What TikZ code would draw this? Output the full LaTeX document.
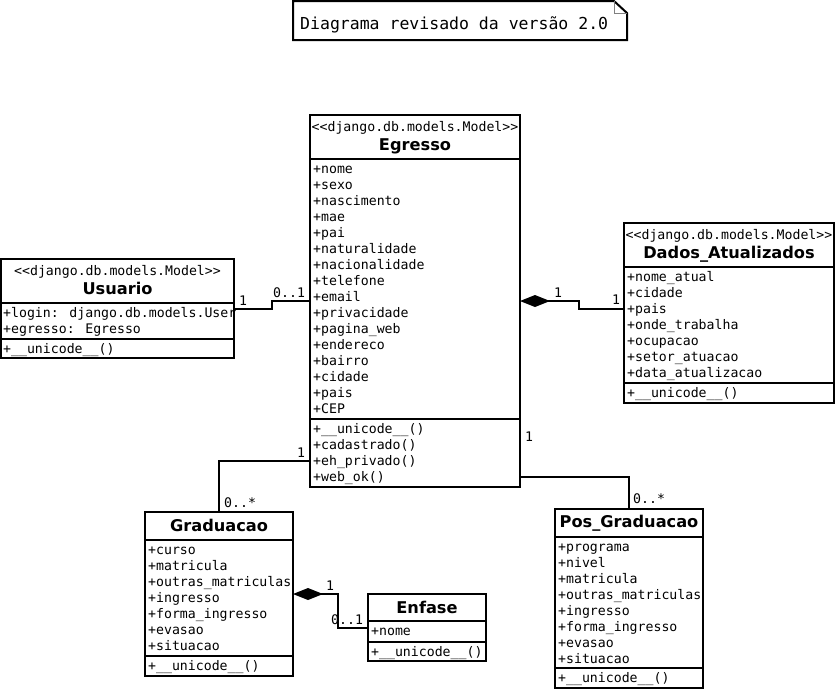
\documentclass[tikz,border=0pt]{standalone}
\usepackage{fontspec}
\newfontfamily\monof{DejaVu Sans Mono}
\newfontfamily\sansf{DejaVu Sans}
\usetikzlibrary{arrows.meta}
\begin{document}
\begin{tikzpicture}[x=1pt,y=-1pt,
  box/.style={draw, line width=2pt, anchor=north west, inner sep=0pt, outer sep=0pt},
  sepline/.style={line width=2pt},
  attr/.style={anchor=base west, inner sep=0pt, font=\monof\fontsize{13.2}{16}\selectfont},
  stereo/.style={anchor=base, inner sep=0pt, font=\monof\fontsize{13.2}{16}\selectfont},
  cname/.style={anchor=base, inner sep=0pt, font=\sansf\bfseries\fontsize{16.2}{18}\selectfont},
  mult/.style={anchor=base west, inner sep=0pt, font=\monof\fontsize{13.2}{16}\selectfont},
  conn/.style={line width=2pt},
  comp/.style={conn, {Diamond[length=30pt 0,width=12pt 0]}-}
]
\useasboundingbox (0,0) rectangle (835,689);

% ---------- note ----------
\draw[line width=2pt] (293,1) -- (614,1) -- (627,13) -- (627,40) -- (293,40) -- cycle;
\draw[gray, line width=1pt] (614,1) -- (614,13) -- (627,13);
\node[anchor=base west, inner sep=0pt, font=\monof\fontsize{16.5}{18}\selectfont] (note) at (300,29) {Diagrama revisado da versão 2.0};

% ---------- Egresso ----------
\node[box, minimum width=210pt, minimum height=372pt] (egresso) at (310,115) {};
\node[stereo] (eg-st) at (egresso.north |- 0,131) {<{}<django.db.models.Model>{}>};
\node[cname] (eg-nm) at (egresso.north |- 0,150) {Egresso};
\draw[sepline] (310,159) -- (520,159);
\foreach \t [count=\i from 0] in {nome,sexo,nascimento,mae,pai,naturalidade,nacionalidade,telefone,email,privacidade,pagina\_web,endereco,bairro,cidade,pais,CEP}
  \node[attr] (eg-a\i) at (313,173+16*\i) {+\t};
\draw[sepline] (310,419) -- (520,419);
\foreach \t [count=\i from 0] in {\_\_unicode\_\_(),cadastrado(),eh\_privado(),web\_ok()}
  \node[attr] (eg-m\i) at (313,433+16*\i) {+\t};

% ---------- Usuario ----------
\node[box, minimum width=233pt, minimum height=99pt] (usuario) at (1,259) {};
\node[stereo] (us-st) at (usuario.north |- 0,275) {<{}<django.db.models.Model>{}>};
\node[cname] (us-nm) at (usuario.north |- 0,294) {Usuario};
\draw[sepline] (1,303) -- (234,303);
\node[attr] (us-a0) at (3,317) {+login: django.db.models.User};
\node[attr] (us-a1) at (3,333) {+egresso: Egresso};
\draw[sepline] (1,339) -- (234,339);
\node[attr] (us-m0) at (3,353) {+\_\_unicode\_\_()};

% ---------- Dados_Atualizados ----------
\node[box, minimum width=210pt, minimum height=180pt] (dados) at (624,223) {};
\node[stereo] (da-st) at (dados.north |- 0,239) {<{}<django.db.models.Model>{}>};
\node[cname] (da-nm) at (dados.north |- 0,258) {Dados\_Atualizados};
\draw[sepline] (624,267) -- (834,267);
\foreach \t [count=\i from 0] in {nome\_atual,cidade,pais,onde\_trabalha,ocupacao,setor\_atuacao,data\_atualizacao}
  \node[attr] (da-a\i) at (627,281+16*\i) {+\t};
\draw[sepline] (624,383) -- (834,383);
\node[attr] (da-m0) at (627,397) {+\_\_unicode\_\_()};

% ---------- Graduacao ----------
\node[box, minimum width=148pt, minimum height=164pt] (grad) at (145,512) {};
\node[cname] (gr-nm) at (grad.north |- 0,531) {Graduacao};
\draw[sepline] (145,540) -- (293,540);
\foreach \t [count=\i from 0] in {curso,matricula,outras\_matriculas,ingresso,forma\_ingresso,evasao,situacao}
  \node[attr] (gr-a\i) at (148,554+16*\i) {+\t};
\draw[sepline] (145,656) -- (293,656);
\node[attr] (gr-m0) at (148,670) {+\_\_unicode\_\_()};

% ---------- Enfase ----------
\node[box, minimum width=118pt, minimum height=67pt] (enfase) at (368,594) {};
\node[cname] (en-nm) at (enfase.north |- 0,613) {Enfase};
\draw[sepline] (368,621) -- (486,621);
\node[attr] (en-a0) at (371,635) {+nome};
\draw[sepline] (368,642) -- (486,642);
\node[attr] (en-m0) at (371,656) {+\_\_unicode\_\_()};

% ---------- Pos_Graduacao ----------
\node[box, minimum width=148pt, minimum height=179pt] (pos) at (555,509) {};
\node[cname] (po-nm) at (pos.north |- 0,527) {Pos\_Graduacao};
\draw[sepline] (555,537) -- (703,537);
\foreach \t [count=\i from 0] in {programa,nivel,matricula,outras\_matriculas,ingresso,forma\_ingresso,evasao,situacao}
  \node[attr] (po-a\i) at (558,551+16*\i) {+\t};
\draw[sepline] (555,668) -- (703,668);
\node[attr] (po-m0) at (558,682) {+\_\_unicode\_\_()};

% ---------- connectors ----------
\draw[conn] (usuario.east) -- ++(38,0) |- (egresso.west);
\node[mult] (m1a) at (239,305) {1};
\node[mult] (m1b) at (273,297) {0..1};

\draw[comp] (egresso.east) -- ++(59,0) |- ([yshift=4.5pt]dados.west);
\node[mult] (m2a) at (554,297) {1};
\node[mult] (m2b) at (612,304) {1};

\draw[conn] ([yshift=26pt]egresso.south west) -| (grad.north);
\node[mult] (m3a) at (297,457) {1};
\node[mult] (m3b) at (224,507) {0..*};

\draw[conn] ([yshift=10pt]egresso.south east) -| (pos.north);
\node[mult] (m4a) at (525,441) {1};
\node[mult] (m4b) at (633,503) {0..*};

\draw[comp] (grad.east) -- ++(45,0) |- (enfase.west);
\node[mult] (m5a) at (326,590) {1};
\node[mult] (m5b) at (331,624) {0..1};
\end{tikzpicture}
\end{document}
